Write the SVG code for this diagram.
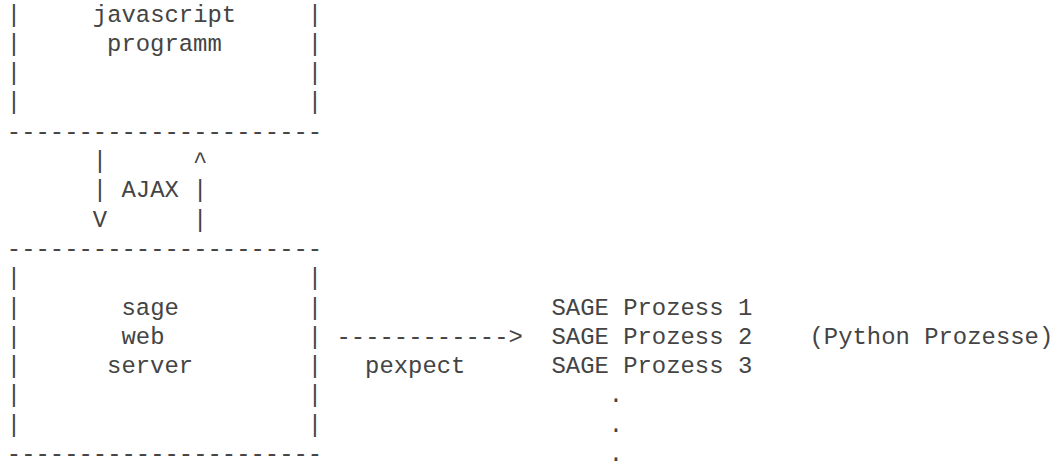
<svg xmlns="http://www.w3.org/2000/svg" width="1052" height="463" viewBox="0 0 1052 463" xml:space="preserve">
<style>
text{font-family:"Liberation Mono","Courier New",monospace;font-size:23.9px;fill:#444;white-space:pre}
</style>
<rect width="1052" height="463" fill="#fff"/>
<g id="js-box">
<text x="6.8" y="21.5">|</text><text x="92.8" y="21.5">javascript</text><text x="307.8" y="21.5">|</text>
<text x="6.8" y="50.8">|</text><text x="107.1" y="50.8">programm</text><text x="307.8" y="50.8">|</text>
<text x="6.8" y="80.1">|</text><text x="307.8" y="80.1">|</text>
<text x="6.8" y="109.4">|</text><text x="307.8" y="109.4">|</text>
<text x="6.8" y="138.7">----------------------</text>
</g>
<g id="connectors">
<g id="ajax">
<text x="92.8" y="168.0">|</text><text x="193.1" y="168.0">^</text>
<text x="92.8" y="197.3">|</text><text x="121.5" y="197.3">AJAX</text><text x="193.1" y="197.3">|</text>
<text x="92.8" y="226.6">V</text><text x="193.1" y="226.6">|</text>
</g>
<g id="pexpect">
<text x="336.5" y="343.8">------------&gt;</text>
<text x="365.1" y="373.1">pexpect</text>
</g>
</g>
<g id="server-box">
<text x="6.8" y="255.9">----------------------</text>
<text x="6.8" y="285.2">|</text><text x="307.8" y="285.2">|</text>
<text x="6.8" y="314.5">|</text><text x="121.5" y="314.5">sage</text><text x="307.8" y="314.5">|</text>
<text x="6.8" y="343.8">|</text><text x="121.5" y="343.8">web</text><text x="307.8" y="343.8">|</text>
<text x="6.8" y="373.1">|</text><text x="107.1" y="373.1">server</text><text x="307.8" y="373.1">|</text>
<text x="6.8" y="402.4">|</text><text x="307.8" y="402.4">|</text>
<text x="6.8" y="431.7">|</text><text x="307.8" y="431.7">|</text>
<text x="6.8" y="461.0">----------------------</text>
</g>
<g id="sage-processes">
<text x="551.5" y="314.5">SAGE Prozess 1</text>
<text x="551.5" y="343.8">SAGE Prozess 2</text>
<text x="551.5" y="373.1">SAGE Prozess 3</text>
<text x="608.8" y="402.4">.</text>
<text x="608.8" y="431.7">.</text>
<text x="608.8" y="461.0">.</text>
</g>
<g id="python-label">
<text x="809.5" y="343.8">(Python Prozesse)</text>
</g>
</svg>
